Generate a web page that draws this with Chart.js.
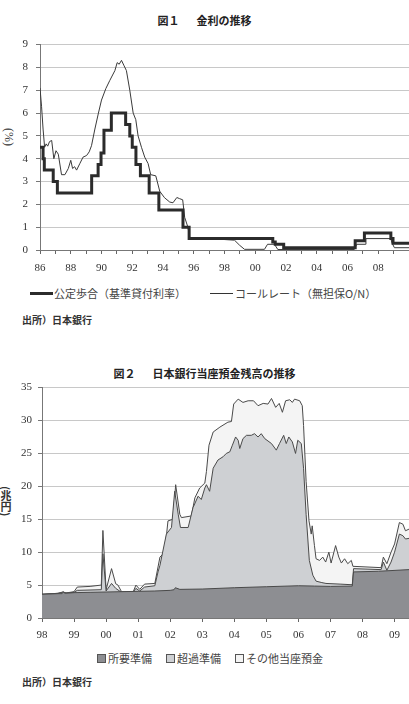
<!DOCTYPE html>
<html><head><meta charset="utf-8">
<script src="https://cdn.jsdelivr.net/npm/chart.js@4.4.0/dist/chart.umd.min.js"></script>
<style>
body{margin:0;width:409px;height:704px;background:#fff;position:relative;overflow:hidden;font-family:'Noto Sans CJK JP',sans-serif;}
.abs{position:absolute;white-space:nowrap;}
.title{font-weight:bold;font-size:11px;color:#222;left:0;width:409px;text-align:center;line-height:14px;}
.src{font-size:10px;color:#333;left:22px;line-height:12px;font-weight:bold;}
.leg{font-size:11px;color:#444;line-height:14px;display:flex;align-items:center;}
.vt{writing-mode:vertical-rl;color:#333;line-height:12px;}
canvas{position:absolute;left:0;}
</style></head><body>
<div class="abs title" style="top:13px;">図１<span style="margin-left:17px;">金利の推移</span></div>
<div class="abs vt" style="left:3px;top:128px;font-size:12px;font-family:'Liberation Serif',serif;">(%)</div>
<canvas id="c1" width="409" height="252" style="top:30px;"></canvas>
<div class="abs leg" style="left:30px;top:286px;"><span style="display:inline-block;width:23px;height:3px;background:#2b2b2b;margin-right:1px;"></span>公定歩合（基準貸付利率）</div>
<div class="abs leg" style="left:210px;top:286px;"><span style="display:inline-block;width:23px;height:1px;background:#333;margin-right:2px;"></span>コールレート（無担保O/N）</div>
<div class="abs src" style="top:314px;">出所）日本銀行</div>

<div class="abs title" style="top:366px;">図２<span style="margin-left:17px;">日本銀行当座預金残高の推移</span></div>
<div class="abs vt" style="left:0px;top:486px;font-size:11px;font-weight:bold;">(兆円)</div>
<canvas id="c2" width="409" height="272" style="top:375px;"></canvas>
<div class="abs leg" style="left:97px;top:651px;">
<span style="display:inline-block;width:7px;height:7px;background:#8d8e92;border:1px solid #555;margin-right:2px;"></span>所要準備
<span style="display:inline-block;width:7px;height:7px;background:#ced0d3;border:1px solid #555;margin:0 2px 0 14px;"></span>超過準備
<span style="display:inline-block;width:7px;height:7px;background:#f4f4f4;border:1px solid #555;margin:0 2px 0 14px;"></span>その他当座預金
</div>
<div class="abs src" style="top:676px;">出所）日本銀行</div>

<script>
// ---- Figure 1: interest rates ----
const rateTickYears = [1986,1987,1988,1989,1990,1991,1992,1993,1994,1995,1996,1997,1998,1999,2000,2001,2002,2003,2004,2005,2006,2007,2008,2009];
const rateYTicks = [0,1,2,3,4,5,6,7,8,9];
const discountDates = [1986.0,1986.2,1986.28,1986.86,1987.13,1989.36,1989.78,1989.97,1990.16,1990.64,1991.57,1991.84,1992.0,1992.24,1992.53,1993.1,1993.73,1995.3,1995.7,2001.14,2001.3,2001.85,2006.5,2007.1,2008.82,2008.96,2010.0];
const discountRates = [4.5,4.0,3.5,3.0,2.5,3.25,3.75,4.25,5.25,6.0,5.5,5.0,4.5,3.75,3.25,2.5,1.75,1.0,0.5,0.35,0.25,0.1,0.4,0.75,0.5,0.3,0.3];
const callDates = [1986.0,1986.1,1986.2,1986.3,1986.4,1986.5,1986.62,1986.76,1986.9,1987.04,1987.19,1987.4,1987.62,1987.84,1988.0,1988.12,1988.25,1988.38,1988.6,1988.8,1989.03,1989.2,1989.35,1989.57,1989.8,1990.0,1990.28,1990.54,1990.87,1991.02,1991.15,1991.3,1991.47,1991.62,1991.84,1992.06,1992.23,1992.38,1992.6,1992.81,1993.03,1993.2,1993.53,1993.79,1994.1,1994.44,1994.65,1994.9,1995.08,1995.28,1995.41,1995.62,1995.75,1996.5,1997.5,1998.65,1998.98,1999.3,2000.6,2000.8,2001.25,2001.47,2006.44,2006.6,2007.15,2007.2,2008.82,2008.9,2009.05,2010.0];
const callRates = [7.1,6.3,5.3,4.5,4.65,4.55,4.75,4.8,4.0,4.35,4.2,3.3,3.3,3.57,3.93,3.57,3.65,3.5,3.8,4.07,4.14,4.3,4.57,5.3,6.0,6.57,7.07,7.43,7.86,8.21,8.14,8.31,8.07,7.86,7.0,6.0,5.71,5.0,4.5,4.07,3.79,3.3,3.25,2.57,2.29,2.1,2.07,2.3,2.25,2.2,1.43,1.0,0.5,0.47,0.48,0.43,0.21,0.03,0.03,0.25,0.25,0.02,0.02,0.25,0.25,0.5,0.5,0.3,0.1,0.1];

// ---- Figure 2: BOJ current account balances (cumulative tops, trillion yen) ----
const balTickYears = [1998,1999,2000,2001,2002,2003,2004,2005,2006,2007,2008,2009];
const balYTicks = [0,5,10,15,20,25,30,35];
const requiredDates = [1998.0,1998.5,1998.63,1998.66,1998.72,1999.0,1999.5,2000.0,2000.5,2001.0,2001.5,2002.0,2002.12,2002.16,2002.3,2003.0,2004.0,2005.0,2006.0,2006.5,2007.0,2007.68,2007.72,2008.5,2009.45];
const requiredTop = [3.6,3.7,3.7,3.95,3.75,3.85,3.9,3.95,4.0,4.05,4.1,4.2,4.3,4.6,4.35,4.4,4.6,4.75,4.9,4.85,4.8,4.85,7.0,7.1,7.35];
const excessDates = [1998.0,1998.5,1998.66,1998.75,1999.0,1999.1,1999.85,1999.9,2000.0,2000.17,2000.3,2000.48,2000.84,2000.93,2001.05,2001.2,2001.52,2001.62,2001.68,2001.88,2002.04,2002.14,2002.25,2002.32,2002.56,2002.71,2002.87,2002.97,2003.08,2003.13,2003.23,2003.34,2003.49,2003.65,2003.75,2003.86,2003.94,2004.04,2004.12,2004.17,2004.27,2004.38,2004.53,2004.63,2004.74,2004.84,2004.95,2005.16,2005.31,2005.41,2005.54,2005.62,2005.7,2005.81,2005.91,2005.98,2006.09,2006.16,2006.24,2006.34,2006.45,2006.55,2006.71,2006.86,2007.3,2007.68,2007.72,2008.58,2008.65,2008.76,2008.89,2009.0,2009.15,2009.26,2009.34,2009.45];
const excessTop = [3.6,3.75,3.95,3.8,3.9,4.2,4.3,9.75,4.1,5.25,4.5,3.9,3.9,4.5,4.1,4.7,4.9,7.0,8.0,12.75,13.75,19.25,15.75,13.75,13.75,16.75,18.5,18.0,19.75,20.25,19.25,22.75,24.0,24.5,25.0,25.25,26.25,27.5,27.0,25.75,27.25,27.75,27.75,28.0,27.5,28.0,27.25,26.5,25.5,26.5,27.75,26.5,27.5,26.75,25.0,27.0,26.5,22.75,15.75,8.75,6.5,5.6,5.4,5.25,5.15,5.05,7.5,7.35,8.5,7.25,8.5,10.0,12.75,12.5,12.0,12.1];
const totalDates = [1998.0,1998.5,1998.66,1998.75,1999.0,1999.1,1999.5,1999.85,1999.9,2000.0,2000.17,2000.3,2000.37,2000.48,2000.84,2000.93,2001.05,2001.2,2001.52,2001.62,2001.68,2001.83,2001.93,2002.09,2002.17,2002.3,2002.35,2002.66,2002.77,2002.92,2003.08,2003.13,2003.21,2003.34,2003.55,2003.8,2003.91,2003.98,2004.12,2004.27,2004.43,2004.6,2004.74,2004.9,2005.05,2005.16,2005.29,2005.4,2005.5,2005.6,2005.73,2005.81,2005.88,2006.04,2006.12,2006.16,2006.24,2006.33,2006.4,2006.43,2006.5,2006.55,2006.66,2006.76,2006.85,2006.95,2007.02,2007.16,2007.26,2007.34,2007.44,2007.54,2007.65,2007.7,2008.58,2008.65,2008.76,2008.89,2009.0,2009.15,2009.26,2009.34,2009.45];
const totalTop = [3.6,3.75,3.95,3.8,4.0,4.7,4.8,5.0,13.3,4.3,7.5,5.2,5.0,4.0,3.9,5.0,4.35,5.15,5.25,7.75,9.25,10.0,14.75,15.0,20.25,15.75,15.25,15.5,18.25,19.75,20.5,22.25,26.25,28.25,29.0,29.75,29.85,32.5,33.25,32.75,33.0,33.0,32.25,32.6,32.5,33.35,32.0,32.6,31.25,33.0,33.15,32.75,33.25,33.0,32.25,29.25,20.75,14.75,12.75,14.0,11.0,9.0,8.75,9.25,8.5,10.0,8.35,11.0,9.25,8.35,9.0,8.25,8.75,7.85,7.65,9.25,8.25,10.0,11.25,14.5,14.25,13.25,13.5];

const pts = (xs, ys) => xs.map((x, i) => ({x, y: ys[i]}));
const yy = v => String(Math.round(v) % 100).padStart(2, '0');
const tickFont = {family: "'Liberation Serif', 'DejaVu Serif', serif", size: 11};

new Chart(document.getElementById('c1'), {
  type: 'line',
  data: {datasets: [
    {label: '公定歩合（基準貸付利率）', data: pts(discountDates, discountRates), borderColor: '#2b2b2b', borderWidth: 3, stepped: true, pointRadius: 0, fill: false},
    {label: 'コールレート（無担保O/N）', data: pts(callDates, callRates), borderColor: '#3a3a3a', borderWidth: 1, pointRadius: 0, tension: 0, fill: false}
  ]},
  options: {
    responsive: false, animation: false, devicePixelRatio: 1,
    layout: {padding: {top: 10, right: 0, left: 0, bottom: 0}},
    plugins: {legend: {display: false}, tooltip: {enabled: false}},
    scales: {
      x: {type: 'linear', min: 1986, max: 2010,
        afterBuildTicks: s => { s.ticks = rateTickYears.map(v => ({value: v})); },
        afterFit: s => { s.height = 32; },
        ticks: {callback: v => (v % 2 === 0 ? yy(v) : ''), font: tickFont, color: '#333', padding: 8, maxRotation: 0, autoSkip: false},
        grid: {drawOnChartArea: false, tickLength: 4, color: '#666'},
        border: {color: '#777', width: 1}},
      y: {min: 0, max: 9,
        afterBuildTicks: s => { s.ticks = rateYTicks.map(v => ({value: v})); },
        afterFit: s => { s.width = 40; },
        ticks: {font: tickFont, color: '#333', padding: 8},
        grid: {color: '#c8c8c8', tickColor: '#777', tickLength: 4},
        border: {color: '#777', width: 1}}
    }
  }
});

new Chart(document.getElementById('c2'), {
  type: 'line',
  data: {datasets: [
    {label: '所要準備', data: pts(requiredDates, requiredTop), borderColor: '#4a4a4a', backgroundColor: '#8d8e92', borderWidth: 1, pointRadius: 0, fill: 'origin', tension: 0},
    {label: '超過準備', data: pts(excessDates, excessTop), borderColor: '#4a4a4a', backgroundColor: '#ced0d3', borderWidth: 1, pointRadius: 0, fill: 'origin', tension: 0},
    {label: 'その他当座預金', data: pts(totalDates, totalTop), borderColor: '#4a4a4a', backgroundColor: '#f4f4f4', borderWidth: 1, pointRadius: 0, fill: 'origin', tension: 0}
  ]},
  options: {
    responsive: false, animation: false, devicePixelRatio: 1,
    layout: {padding: {top: 10, right: 0, left: 0, bottom: 0}},
    plugins: {legend: {display: false}, tooltip: {enabled: false}},
    scales: {
      x: {type: 'linear', min: 1998, max: 2009.45,
        afterBuildTicks: s => { s.ticks = balTickYears.map(v => ({value: v})); },
        afterFit: s => { s.height = 29; },
        ticks: {callback: v => yy(v), font: tickFont, color: '#333', padding: 7, maxRotation: 0, autoSkip: false},
        grid: {drawOnChartArea: false, tickLength: 4, color: '#666'},
        border: {color: '#777', width: 1}},
      y: {min: 0, max: 35,
        afterBuildTicks: s => { s.ticks = balYTicks.map(v => ({value: v})); },
        afterFit: s => { s.width = 42; },
        ticks: {font: tickFont, color: '#333', padding: 6},
        grid: {color: '#c8c8c8', tickColor: '#777', tickLength: 4},
        border: {color: '#777', width: 1}}
    }
  }
});
</script>
</body></html>
